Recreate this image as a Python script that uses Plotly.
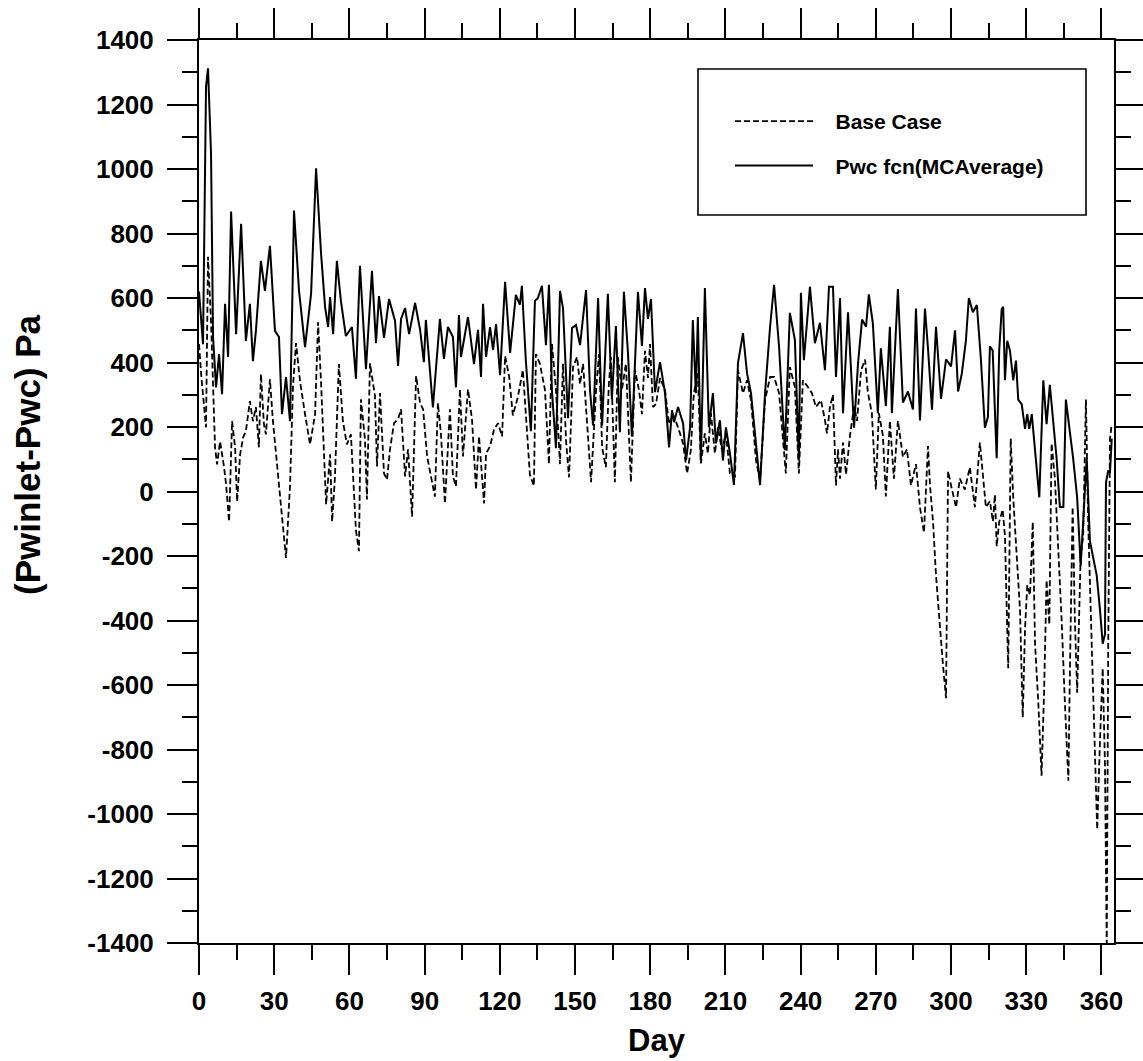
import plotly.graph_objects as go

# ---------------- data ----------------
mc_days = [0.0, 1.6, 2.8, 3.6, 4.8, 5.6, 6.8, 8.0, 9.2, 10.4, 11.6, 12.8, 14.8, 16.8, 18.7, 20.3, 21.5, 22.7,
           24.7, 26.3, 28.3, 30.3, 31.9, 33.1, 34.7, 36.3, 37.9, 39.9, 42.3, 44.7, 46.7, 48.7, 50.3, 51.5,
           52.3, 53.5, 55.0, 56.6, 58.6, 61.0, 62.6, 64.2, 66.6, 69.0, 70.6, 71.8, 73.8, 75.8, 78.2, 79.4,
           80.6, 82.2, 83.8, 86.2, 88.2, 89.7, 90.5, 93.3, 96.1, 97.7, 99.3, 101.3, 102.5, 103.7, 104.5,
           107.3, 109.7, 111.3, 112.5, 113.3, 114.5, 116.1, 117.3, 118.5, 120.1, 122.1, 124.1, 126.4, 128.0,
           128.8, 130.4, 132.4, 134.0, 135.2, 136.8, 138.4, 139.6, 140.8, 142.4, 144.0, 145.2, 147.2, 148.8,
           150.4, 152.0, 153.2, 154.4, 156.0, 157.2, 159.2, 160.8, 163.1, 164.7, 166.3, 167.9, 169.5, 171.1,
           172.7, 175.1, 176.7, 177.9, 179.1, 180.3, 181.9, 183.9, 185.9, 187.5, 188.7, 189.5, 191.1, 193.1,
           194.3, 195.9, 197.0, 198.2, 199.0, 200.2, 201.8, 203.4, 205.0, 206.2, 207.8, 209.0, 210.2, 211.8,
           213.4, 215.0, 217.0, 218.6, 220.2, 222.2, 223.8, 225.8, 227.8, 229.4, 231.4, 233.7, 235.7, 237.7,
           239.3, 240.1, 241.3, 243.7, 245.7, 247.7, 249.7, 251.3, 252.9, 254.1, 255.7, 256.9, 258.9, 261.3,
           262.9, 264.5, 266.1, 267.2, 268.8, 270.8, 272.0, 274.0, 275.6, 276.4, 278.8, 280.8, 282.8, 284.8,
           286.0, 287.6, 289.6, 290.8, 292.4, 294.0, 296.0, 298.0, 300.0, 301.6, 302.8, 304.3, 305.9, 307.1,
           308.7, 310.3, 311.9, 313.5, 314.7, 315.5, 316.6, 318.2, 319.2, 320.2, 320.8, 321.5, 322.4, 323.5,
           324.8, 325.9, 326.8, 328.2, 329.5, 330.4, 331.2, 332.2, 333.5, 335.2, 336.8, 338.1, 339.4, 340.8,
           342.1, 343.4, 344.8, 345.8, 347.4, 348.7, 350.3, 351.7, 352.7, 354.1, 355.4, 356.7, 358.1, 359.4,
           360.5, 361.4, 361.8, 362.7, 363.4, 364.1]
pwc_mc = [620, 457, 1256, 1312, 1048, 479, 323, 426, 302, 582, 417, 868, 488, 830, 467, 582, 404, 498,
          715, 622, 762, 498, 479, 240, 355, 218, 871, 622, 448, 613, 1002, 737, 572, 510,
          603, 488, 715, 591, 482, 510, 350, 700, 379, 684, 460, 606, 476, 597, 529, 389,
          535, 569, 488, 585, 501, 401, 532, 261, 535, 411, 510, 479, 323, 547, 417,
          541, 395, 501, 355, 582, 417, 510, 439, 519, 361, 650, 430, 610, 579,
          638, 404, 187, 591, 600, 638, 454, 641, 311, 134, 622, 569, 227, 507,
          516, 454, 547, 625, 311, 205, 600, 205, 613, 286, 513, 184, 619, 432,
          171, 619, 451, 631, 535, 597, 308, 401, 305, 137, 252, 215, 262, 212,
          97, 199, 532, 305, 541, 96, 631, 199, 305, 149, 221, 96, 199, 118,
          20, 398, 491, 367, 305, 149, 20, 305, 510, 641, 448, 128, 554, 470,
          96, 616, 407, 635, 460, 523, 376, 635, 635, 355, 600, 243, 556, 198,
          399, 533, 511, 611, 522, 243, 444, 265, 511, 243, 628, 276, 310, 254,
          567, 220, 567, 444, 254, 511, 287, 410, 388, 500, 310, 366, 466, 600,
          556, 578, 410, 198, 231, 450, 437, 103, 437, 565, 573, 345, 467, 437,
          345, 406, 285, 270, 194, 240, 194, 240, 134, -18, 345, 209, 331, 209,
          103, -48, -48, 285, 194, 103, -18, -230, -94, 103, -154, -200, -260, -366,
          -472, -442, 28, 65, 58, 164]

base_days = [0.0, 1.0, 2.8, 3.6, 4.8, 6.4, 7.2, 8.4, 10.0, 10.8, 12.0, 13.2, 14.4, 15.2, 16.4, 17.6, 18.7,
             20.3, 21.5, 22.7, 23.9, 24.7, 25.9, 26.7, 28.3, 29.5, 31.5, 33.1, 34.7, 36.3, 37.5, 38.7, 40.3,
             42.3, 44.3, 46.3, 47.5, 48.7, 50.7, 52.3, 53.1, 54.2, 55.8, 57.4, 59.0, 60.6, 62.6, 63.8, 64.6,
             66.2, 67.0, 68.2, 70.2, 71.0, 72.2, 73.8, 75.0, 76.2, 77.8, 79.4, 80.6, 82.2, 83.4, 85.0, 86.6,
             88.2, 89.4, 91.0, 94.1, 95.3, 96.5, 98.1, 100.1, 101.3, 102.5, 104.1, 105.3, 107.3, 108.9, 110.5,
             111.7, 113.7, 114.5, 116.1, 117.7, 119.3, 120.9, 122.1, 123.7, 125.2, 127.2, 129.2, 130.4, 132.0,
             133.6, 134.4, 136.0, 138.0, 139.6, 140.8, 142.4, 144.0, 145.2, 146.4, 147.6, 149.2, 150.8, 152.0,
             153.2, 154.4, 156.4, 158.4, 159.6, 160.8, 162.3, 163.5, 164.3, 165.9, 167.1, 168.7, 170.3, 172.3,
             173.9, 175.5, 176.7, 177.9, 179.1, 179.9, 181.1, 182.3, 183.9, 185.9, 187.5, 189.1, 191.1, 193.1,
             194.7, 196.2, 197.4, 199.0, 200.2, 201.8, 203.0, 204.2, 205.8, 207.0, 208.6, 210.2, 211.8, 213.8,
             215.0, 217.0, 218.6, 220.2, 222.2, 223.8, 225.8, 227.8, 229.4, 231.4, 234.1, 235.7, 237.7, 239.3,
             240.9, 242.9, 244.5, 246.1, 248.1, 249.7, 250.5, 251.7, 252.9, 254.1, 254.9, 255.7, 256.9, 258.1,
             259.7, 261.3, 262.5, 264.1, 265.7, 266.8, 268.4, 270.0, 271.2, 272.8, 274.0, 275.6, 277.2, 278.8,
             280.8, 282.4, 284.0, 286.0, 287.6, 289.2, 290.8, 291.6, 292.8, 294.0, 295.6, 296.8, 298.0, 298.8,
             300.0, 302.0, 303.5, 305.5, 307.5, 309.5, 311.5, 312.7, 313.9, 315.5, 316.7, 317.5, 318.2, 319.2,
             320.6, 321.5, 322.8, 323.8, 324.8, 326.2, 327.5, 328.6, 329.5, 330.4, 331.5, 332.6, 333.5, 334.8,
             336.1, 337.1, 338.1, 339.2, 340.1, 341.4, 342.8, 344.1, 345.4, 346.8, 347.4, 348.5, 349.4, 350.3,
             351.7, 352.7, 353.8, 354.7, 356.1, 357.0, 357.8, 358.3, 359.4, 360.5, 361.4, 362.1, 362.7, 363.4,
             364.1]
base_case = [457, 350, 199, 728, 529, 137, 84, 155, 75, 22, -93, 218, 137, -31, 115, 168, 187,
             280, 218, 262, 137, 364, 209, 177, 348, 218, 53, -72, -206, 16, 327, 460, 342,
             240, 146, 240, 525, 336, -40, 115, -93, 40, 395, 218, 146, 177, -120, -185, 286,
             162, -25, 398, 296, 78, 305, 56, 37, 131, 212, 224, 255, 47, 131, -78, 358,
             274, 255, 109, -16, 274, 180, -37, 255, 47, 16, 317, 109, 317, 224, 6,
             171, -37, 118, 140, 193, 212, 171, 420, 358, 236, 293, 377, 230, 52,
             18, 426, 396, 315, 85, 457, 315, 85, 396, 159, 44, 386, 417, 333,
             396, 253, 29, 315, 426, 137, 75, 333, 417, 29, 417, 315, 396, 29,
             377, 315, 240, 436, 352, 457, 262, 271, 352, 315, 209, 240, 199, 149,
             56, 128, 305, 367, 87, 180, 118, 243, 118, 199, 128, 180, 56, 44,
             376, 305, 345, 283, 96, 34, 283, 355, 355, 305, 56, 386, 324, 56,
             345, 324, 305, 262, 283, 221, 180, 262, 300, 19, 131, 40, 152, 53,
             174, 264, 219, 376, 409, 308, 243, 6, 243, 174, -15, 219, 40, 219,
             107, 131, 19, 85, -49, -127, 141, 19, -93, -261, -429, -540, -641, 63,
             19, -49, 40, 6, 75, -49, 152, 40, -49, -30, -93, -10, -170, -94,
             -56, -138, -548, 164, -18, -200, -366, -700, -427, -291, -321, -94, -472, -654,
             -881, -624, -275, -412, 149, 43, -170, -397, -654, -897, -563, -48, -397, -624,
             -200, -138, 285, -94, -472, -730, -897, -1048, -775, -548, -851, -1400, -472, 164,
             209]

x_ticks = list(range(0, 361, 30))
x_minor = list(range(15, 366, 30))
y_ticks = list(range(-1400, 1401, 200))
y_minor = list(range(-1300, 1400, 200))
y_tick_text = [str(v) for v in y_ticks]   # plain hyphen minus like the original

FONT = "Liberation Sans"
L, R, T, B = 199, 29, 40, 118
W, H = 1143, 1061
PW, PH = W - L - R, H - T - B

fig = go.Figure()
fig.add_trace(go.Scatter(x=base_days, y=base_case, mode="lines",
                         name="\u00a0\u00a0\u00a0Base Case", legendgroup="a",
                         line=dict(color="black", width=1.8, dash="6px,3px")))
fig.add_trace(go.Scatter(x=mc_days, y=pwc_mc, mode="lines",
                         name="\u00a0\u00a0\u00a0Pwc fcn(MCAverage)", legendgroup="b",
                         line=dict(color="black", width=2)))

axis_common = dict(
    showline=True, linecolor="black", linewidth=2, mirror="allticks",
    ticks="outside", ticklen=30, tickwidth=2, tickcolor="black",
    showgrid=False, zeroline=False, automargin=False,
    tickfont=dict(family=FONT, size=26, color="black", weight="bold"),
)

fig.update_layout(
    width=W, height=H,
    margin=dict(l=L, r=R, t=T, b=B),
    paper_bgcolor="white", plot_bgcolor="white",
    font=dict(family=FONT, color="black"),
    xaxis=dict(range=[0, 365], tickmode="array", tickvals=x_ticks,
               minor=dict(tickmode="array", tickvals=x_minor, ticks="outside", ticklen=15,
                          tickwidth=2, tickcolor="black"),
               title=dict(text="Day", font=dict(family=FONT, size=31, color="black", weight="bold"),
                          standoff=14),
               ticklabelstandoff=4,
               **axis_common),
    yaxis=dict(range=[-1400, 1400], tickmode="array", tickvals=y_ticks, ticktext=y_tick_text,
               minor=dict(tickmode="array", tickvals=y_minor, ticks="outside", ticklen=15,
                          tickwidth=2, tickcolor="black"),
               ticklabelstandoff=8,
               **axis_common),
    showlegend=True,
    legend=dict(x=(735 - 5 - L) / PW, y=(H - B - 101) / PH, xanchor="left", yanchor="top",
                bgcolor="rgba(0,0,0,0)", borderwidth=0,
                font=dict(family=FONT, size=21, color="black", weight="bold"),
                itemwidth=78, traceorder="grouped", tracegroupgap=14),
    shapes=[dict(type="rect", xref="paper", yref="paper",
                 x0=(698 - L) / PW, x1=(1086 - L) / PW,
                 y0=(H - B - 215) / PH, y1=(H - B - 69) / PH,
                 line=dict(color="black", width=1.6), fillcolor="rgba(0,0,0,0)")],
    annotations=[dict(text="(Pwinlet-Pwc) Pa", textangle=-90, showarrow=False,
                      xref="paper", yref="paper", x=(27 - L) / PW, y=(H - B - 455) / PH,
                      xanchor="center", yanchor="middle",
                      font=dict(family=FONT, size=35, color="black", weight="bold"))],
)

fig.write_html("out.html")
